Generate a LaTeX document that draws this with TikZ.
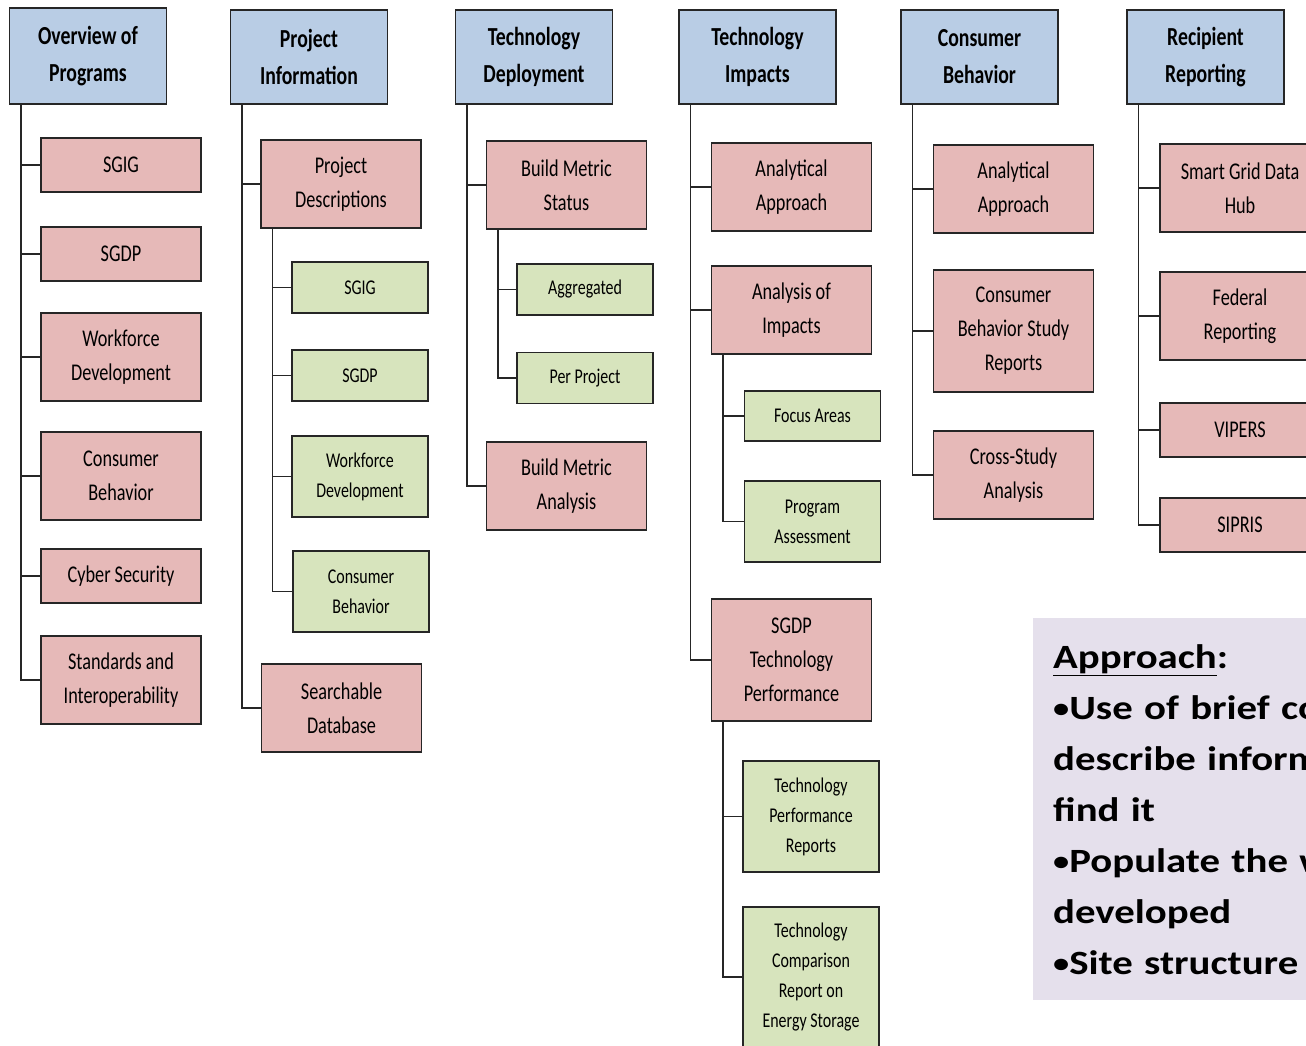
\documentclass[tikz,border=0pt]{standalone}
\usepackage{fontspec}
\setmainfont{Carlito}
\newfontfamily\chartfont{Carlito}[FakeStretch=0.76]
\newfontfamily\notefont{Carlito}[FakeStretch=1.2]
\usepackage{xcolor}
\definecolor{headblue}{HTML}{B9CDE5}
\definecolor{secpink}{HTML}{E6B9B8}
\definecolor{leafgreen}{HTML}{D7E4BD}
\definecolor{notelilac}{HTML}{E5E0EC}
\definecolor{boxline}{HTML}{262626}
\newcommand{\notebullet}{{\fontsize{27}{51}\selectfont\raisebox{1.5pt}{•}}}

\tikzset{branch/.style={line width=1.8pt,to path={([xshift=12pt]\tikztostart.south west) |- (\tikztotarget.west)}}}

\begin{document}
\begin{tikzpicture}[x=1pt,y=-1pt,
  box/.style={draw=boxline,line width=1.2pt,inner sep=0pt,align=center},
  head node/.style={box,fill=headblue,minimum width=157pt,minimum height=94pt,font=\chartfont\bfseries\fontsize{26}{37}\selectfont},
  sect node/.style={box,fill=secpink,minimum width=160pt,minimum height=88pt,font=\chartfont\fontsize{24}{34}\selectfont},
  leaf node/.style={box,fill=leafgreen,minimum width=136pt,minimum height=81pt,font=\chartfont\fontsize{21}{30}\selectfont},
  note node/.style={anchor=north west,fill=notelilac,minimum width=330pt,minimum height=382pt,inner xsep=20pt,inner ysep=0pt,text width=600pt,align=left,font=\notefont\bfseries\fontsize{34}{51}\selectfont}]
  \useasboundingbox (0,0) rectangle (1306,1045);
  \clip (0,0) rectangle (1306,1045);

  \node[head node,minimum height=96pt] (over) at (88,56) {Overview of\\Programs};
  \node[head node] (info) at (309,57) {Project\\Information};
  \node[head node] (deploy) at (534,57) {Technology\\Deployment};
  \node[head node] (impact) at (757.5,57) {Technology\\Impacts};
  \node[head node] (behav) at (979.5,57) {Consumer\\Behavior};
  \node[head node] (recip) at (1205.5,57) {Recipient\\Reporting};

  \node[sect node,minimum height=54pt] (o-sgig) at (121,165) {SGIG};
  \node[sect node,minimum height=54pt] (o-sgdp) at (121,254) {SGDP};
  \node[sect node] (o-work) at (121,357) {Workforce\\Development};
  \node[sect node] (o-cons) at (121,476) {Consumer\\Behavior};
  \node[sect node,minimum height=54pt] (o-cyber) at (121,576) {Cyber Security};
  \node[sect node] (o-std) at (121,680) {Standards and\\Interoperability};

  \node[sect node] (i-desc) at (341,184) {Project\\Descriptions};
  \node[leaf node,minimum height=51pt] (i-sgig) at (360,287.5) {SGIG};
  \node[leaf node,minimum height=51pt] (i-sgdp) at (360,375.5) {SGDP};
  \node[leaf node] (i-work) at (360,476.5) {Workforce\\Development};
  \node[leaf node] (i-cons) at (361,591.5) {Consumer\\Behavior};
  \node[sect node] (i-search) at (341.5,708) {Searchable\\Database};

  \node[sect node] (d-status) at (566.5,185) {Build Metric\\Status};
  \node[leaf node,minimum height=51pt] (d-agg) at (585,289.5) {Aggregated};
  \node[leaf node,minimum height=51pt] (d-per) at (585,378) {Per Project};
  \node[sect node] (d-analysis) at (566.5,486) {Build Metric\\Analysis};

  \node[sect node] (t-approach) at (791.5,187) {Analytical\\Approach};
  \node[sect node] (t-impacts) at (791.5,310) {Analysis of\\Impacts};
  \node[leaf node,minimum height=50pt] (t-focus) at (812.5,416) {Focus Areas};
  \node[leaf node] (t-assess) at (812.5,521.5) {Program\\Assessment};
  \node[sect node,minimum height=122pt] (t-sgdp) at (791.5,660) {SGDP\\Technology\\Performance};
  \node[leaf node,minimum height=111pt] (t-reports) at (811,816.5) {Technology\\Performance\\Reports};
  \node[leaf node,minimum height=140pt] (t-storage) at (811,977) {Technology\\Comparison\\Report on\\Energy Storage};

  \node[sect node] (c-approach) at (1013.5,189) {Analytical\\Approach};
  \node[sect node,minimum height=122pt] (c-study) at (1013.5,331) {Consumer\\Behavior Study\\Reports};
  \node[sect node] (c-cross) at (1013.5,475) {Cross-Study\\Analysis};

  \node[sect node] (r-hub) at (1240,188) {Smart Grid Data\\Hub};
  \node[sect node] (r-federal) at (1240,316) {Federal\\Reporting};
  \node[sect node,minimum height=54pt] (r-vipers) at (1240,430) {VIPERS};
  \node[sect node,minimum height=54pt] (r-sipris) at (1240,525) {SIPRIS};

  \node[note node] (approach) at (1033,618) {\underline{Approach}:\\
    \notebullet Use of brief content\\
    describe information\\
    find it\\
    \notebullet Populate the website\\
    developed\\
    \notebullet Site structure};

  \path[draw=boxline]
    (over) edge[branch] (o-sgig)
    (over) edge[branch] (o-sgdp)
    (over) edge[branch] (o-work)
    (over) edge[branch] (o-cons)
    (over) edge[branch] (o-cyber)
    (over) edge[branch] (o-std)
    (info) edge[branch] (i-desc)
    (info) edge[branch] (i-search)
    (i-desc) edge[branch] (i-sgig)
    (i-desc) edge[branch] (i-sgdp)
    (i-desc) edge[branch] (i-work)
    (i-desc) edge[branch] (i-cons)
    (deploy) edge[branch] (d-status)
    (deploy) edge[branch] (d-analysis)
    (d-status) edge[branch] (d-agg)
    (d-status) edge[branch] (d-per)
    (impact) edge[branch] (t-approach)
    (impact) edge[branch] (t-impacts)
    (impact) edge[branch] (t-sgdp)
    (t-impacts) edge[branch] (t-focus)
    (t-impacts) edge[branch] (t-assess)
    (t-sgdp) edge[branch] (t-reports)
    (t-sgdp) edge[branch] (t-storage)
    (behav) edge[branch] (c-approach)
    (behav) edge[branch] (c-study)
    (behav) edge[branch] (c-cross)
    (recip) edge[branch] (r-hub)
    (recip) edge[branch] (r-federal)
    (recip) edge[branch] (r-vipers)
    (recip) edge[branch] (r-sipris);
\end{tikzpicture}
\end{document}
